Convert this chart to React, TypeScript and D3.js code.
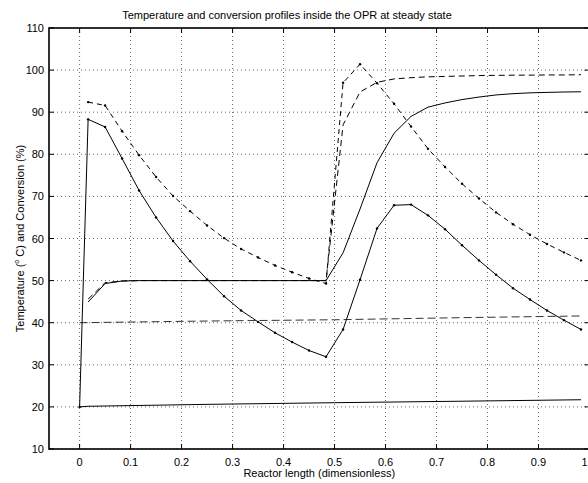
import React from "react";
import * as d3 from "d3";

// Node positions along the reactor (dimensionless)
const nodeX = [
  0.0167, 0.05, 0.0833, 0.1167, 0.15, 0.1833, 0.2167, 0.25, 0.2833, 0.3167,
  0.35, 0.3833, 0.4167, 0.45, 0.4833, 0.5167, 0.55, 0.5833, 0.6167, 0.65,
  0.6833, 0.7167, 0.75, 0.7833, 0.8167, 0.85, 0.8833, 0.9167, 0.95, 0.9833,
];

// Solid temperature profile (starts from inlet at x=0, 20 °C)
const tempSolid = [
  88.3, 86.5, 79.0, 71.4, 65.0, 59.4, 54.6, 50.3, 46.3, 42.9,
  40.2, 37.6, 35.4, 33.4, 31.9, 38.4, 50.2, 62.4, 67.9, 68.05,
  65.5, 62.2, 58.4, 54.8, 51.4, 48.2, 45.5, 42.9, 40.6, 38.4,
];
// Dashed temperature profile
const tempDashed = [
  92.4, 91.6, 85.5, 79.8, 74.6, 70.1, 66.5, 63.1, 60.1, 57.5,
  55.5, 53.6, 52.0, 50.5, 49.3, 97.0, 101.4, 96.9, 92.0, 86.6,
  81.3, 77.0, 73.0, 69.5, 66.2, 63.4, 60.9, 58.7, 56.7, 54.8,
];
// Solid conversion profile
const convSolid = [
  44.9, 49.3, 49.9, 50.0, 50.0, 50.0, 50.0, 50.0, 50.0, 50.0,
  50.0, 50.0, 50.0, 50.0, 50.0, 56.6, 67.0, 78.0, 85.0, 89.0,
  91.2, 92.2, 93.0, 93.6, 94.1, 94.4, 94.6, 94.7, 94.8, 94.85,
];
// Dashed conversion profile
const convDashed = [
  45.6, 49.5, 49.9, 50.0, 50.0, 50.0, 50.0, 50.0, 50.0, 50.0,
  50.0, 50.0, 50.0, 50.0, 50.0, 87.0, 94.8, 97.1, 97.9, 98.2,
  98.4, 98.5, 98.6, 98.7, 98.75, 98.8, 98.8, 98.85, 98.85, 98.9,
];
// Jacket / coolant lines
const coolDashedX = [0, 0.25, 0.5, 0.75, 0.9833];
const coolDashedY = [40.0, 40.4, 40.7, 41.2, 41.6];
const coolSolidX = [0, 0.0167, 0.25, 0.5, 0.75, 0.9833];
const coolSolidY = [20.0, 20.15, 20.6, 21.0, 21.35, 21.7];

const inletX = 0;
const inletT = 20;

const xTicks = [0, 0.1, 0.2, 0.3, 0.4, 0.5, 0.6, 0.7, 0.8, 0.9, 1];
const xTickLabels = ["0", "0.1", "0.2", "0.3", "0.4", "0.5", "0.6", "0.7", "0.8", "0.9", "1"];
const yTicks = [10, 20, 30, 40, 50, 60, 70, 80, 90, 100, 110];

const W = 588;
const H = 483;
const L = 49;
const R = 589.5;
const T = 28;
const B = 449;
const FONT = "'Liberation Sans', Arial, Helvetica, sans-serif";

export default function App() {
  const x = d3.scaleLinear().domain([-0.06, 1.0]).range([L, R]);
  const y = d3.scaleLinear().domain([10, 110]).range([B, T]);
  const line = d3
    .line<[number, number]>()
    .x((d) => x(d[0]))
    .y((d) => y(d[1]));

  const zip = (xs: number[], ys: number[]): [number, number][] =>
    xs.map((v, i) => [v, ys[i]]);

  const sA: [number, number][] = [[inletX, inletT], ...zip(nodeX, tempSolid)];
  const sB = zip(nodeX, tempDashed);
  const sC = zip(nodeX, convSolid);
  const sD = zip(nodeX, convDashed);
  const sE = zip(coolDashedX, coolDashedY);
  const sF = zip(coolSolidX, coolSolidY);

  return (
    <svg
      width={W}
      height={H}
      style={{ position: "absolute", left: 0, top: 0, display: "block", background: "#fff" }}
      fontFamily={FONT}
    >
      <rect x={0} y={0} width={W} height={H} fill="#fff" />
      {/* grid */}
      <g stroke="#444" strokeWidth={0.8} strokeDasharray="1,3">
        {xTicks.map((t) => (
          <line key={"gx" + t} x1={x(t)} x2={x(t)} y1={T} y2={B} />
        ))}
        {yTicks.map((t) => (
          <line key={"gy" + t} x1={L} x2={R} y1={y(t)} y2={y(t)} />
        ))}
      </g>
      {/* ticks */}
      <g stroke="#000" strokeWidth={1}>
        {xTicks.map((t) => (
          <g key={"tx" + t}>
            <line x1={x(t)} x2={x(t)} y1={B} y2={B - 5} />
            <line x1={x(t)} x2={x(t)} y1={T} y2={T + 5} />
          </g>
        ))}
        {yTicks.map((t) => (
          <g key={"ty" + t}>
            <line x1={L} x2={L + 5} y1={y(t)} y2={y(t)} />
            <line x1={R} x2={R - 5} y1={y(t)} y2={y(t)} />
          </g>
        ))}
      </g>
      {/* data */}
      <g fill="none" stroke="#000" strokeWidth={1}>
        <path d={line(sF) || ""} />
        <path d={line(sE) || ""} strokeDasharray="8,4" stroke="#333" />
        <path d={line(sD) || ""} strokeDasharray="6,4" />
        <path d={line(sC) || ""} />
        <path d={line(sB) || ""} strokeDasharray="5,4" />
        <path d={line(sA) || ""} />
      </g>
      <g fill="#000">
        {sA.map((d, i) => (
          <circle key={"ma" + i} cx={x(d[0])} cy={y(d[1])} r={1.2} />
        ))}
        {sB.map((d, i) => (
          <circle key={"mb" + i} cx={x(d[0])} cy={y(d[1])} r={1.2} />
        ))}
      </g>
      {/* box */}
      <rect x={L} y={T} width={R - L} height={B - T} fill="none" stroke="#000" strokeWidth={1.6} />
      {/* tick labels */}
      <g fontSize={11} fill="#000">
        {xTicks.map((t, i) => {
          const px = x(t);
          const last = px + 4 > W;
          return (
            <text
              key={"lx" + t}
              x={last ? W - 0.5 : px}
              y={466}
              textAnchor={last ? "end" : "middle"}
            >
              {xTickLabels[i]}
            </text>
          );
        })}
        {yTicks.map((t) => (
          <text key={"ly" + t} x={44} y={y(t) + 4} textAnchor="end">
            {t}
          </text>
        ))}
      </g>
      <text x={287} y={19} textAnchor="middle" fontSize={11}>
        Temperature and conversion profiles inside the OPR at steady state
      </text>
      <text x={(L + R) / 2} y={477} textAnchor="middle" fontSize={11}>
        Reactor length (dimensionless)
      </text>
      <text
        transform={`translate(23.5, ${(T + B) / 2}) rotate(-90)`}
        textAnchor="middle"
        fontSize={11}
      >
        Temperature (<tspan fontSize={7} dy={-5}>o</tspan>
        <tspan dy={5}> C) and Conversion (%)</tspan>
      </text>
    </svg>
  );
}
